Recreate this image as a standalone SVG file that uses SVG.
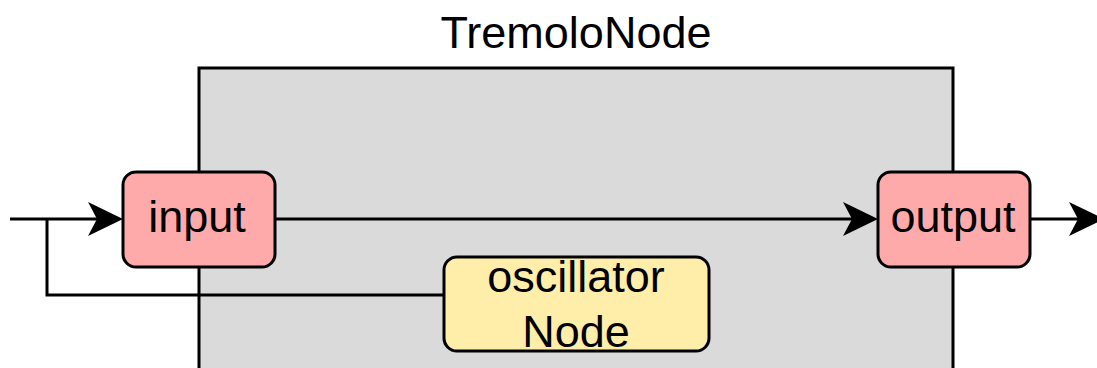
<svg xmlns="http://www.w3.org/2000/svg" width="1097" height="368" viewBox="0 0 1097 368">
  <defs>
    <style>
      .lbl { font-family: "Liberation Sans", Arial, sans-serif; font-size: 45px; fill: #000; text-anchor: middle; }
      .box { stroke: #000; stroke-width: 3; }
      .port { fill: #ffaaaa; }
      .osc { fill: #ffeeaa; }
      .wire { fill: none; stroke: #000; stroke-width: 3; }
      .head { fill: #000; stroke: none; }
    </style>
  </defs>

  <!-- container -->
  <g id="tremolo-node">
    <rect x="199" y="68" width="754" height="340" fill="#dadada" stroke="#000" stroke-width="3"/>
    <text class="lbl" x="576" y="48">TremoloNode</text>
  </g>

  <!-- connectors -->
  <g id="connectors">
    <path class="wire" d="M10,219 H98"/>
    <path class="head" d="M123,219 L88,202 L97,219 L88,236 Z"/>
    <path class="wire" d="M47,219 V295 H444"/>
    <path class="wire" d="M275,219 H853"/>
    <path class="head" d="M878,219 L843,202 L852,219 L843,236 Z"/>
    <path class="wire" d="M1030,219 H1090"/>
    <path class="head" d="M1104,219 L1069,202 L1078,219 L1069,236 Z"/>
  </g>

  <g id="input">
    <rect class="box port" x="123" y="172" width="152" height="95" rx="13"/>
    <text class="lbl" x="197" y="232">input</text>
  </g>

  <g id="output">
    <rect class="box port" x="878" y="172" width="152" height="95" rx="13"/>
    <text class="lbl" x="953" y="232">output</text>
  </g>

  <g id="oscillator">
    <rect class="box osc" x="444" y="257" width="265" height="94" rx="13"/>
    <text class="lbl" x="576" y="292">oscillator</text>
    <text class="lbl" x="576" y="347">Node</text>
  </g>
</svg>
